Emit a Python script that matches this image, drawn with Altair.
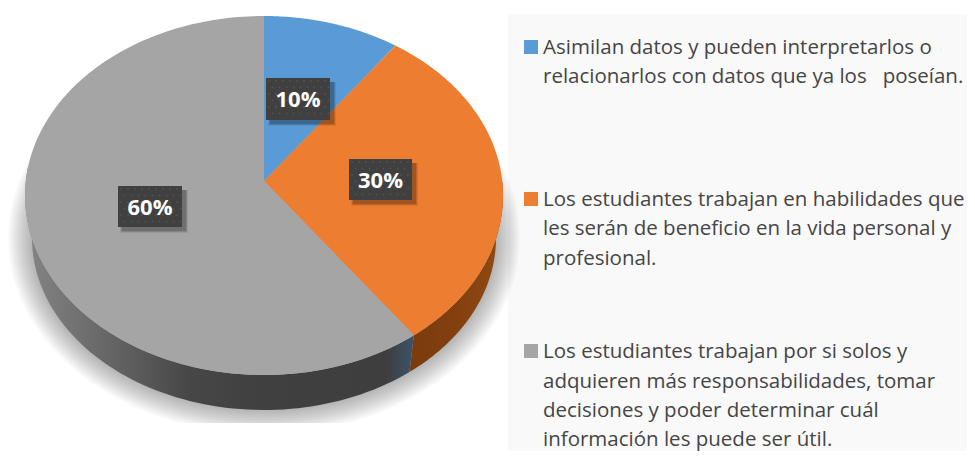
import altair as alt
import numpy as np
import pandas as pd

# ---- data ----
categories = ["Asimilan", "Los estudiantes habilidades", "Los estudiantes solos"]
values = [10, 30, 60]
pct_labels = ["10%", "30%", "60%"]
colors = ["#5b9bd5", "#ed7d31", "#a5a5a5"]
legend_lines = [
    ["Asimilan datos y pueden interpretarlos o",
     "relacionarlos con datos que ya los\u00a0\u00a0\u00a0poseían."],
    ["Los estudiantes trabajan en habilidades que",
     "les serán de beneficio en la vida personal y",
     "profesional."],
    ["Los estudiantes trabajan por si solos y",
     "adquieren más responsabilidades, tomar",
     "decisiones y poder determinar cuál",
     "información les puede ser útil."],
]

# ---- layout (image pixels) ----
CX, CY, RX, RY, K = 264, 195.5, 239, 179.5, 0.081
BCY, BRX, BRY = 238, 232, 172
legend_baselines = [[54, 83], [206, 235, 265], [358, 388, 417, 446]]
swatch_tops = [40, 192, 344]
label_boxes = [(266, 330, 78, 120), (349, 412, 159, 200), (118, 182, 186, 227)]

W, H = 959, 443
xs = alt.Scale(domain=[8, 967], nice=False, zero=False)
ys = alt.Scale(domain=[451, 8], nice=False, zero=False)
X = lambda f="x": alt.X(f"{f}:Q", scale=xs, axis=None)
Y = lambda f="y": alt.Y(f"{f}:Q", scale=ys, axis=None)


def rim(theta_deg, cx=CX, cy=CY, rx=RX, ry=RY):
    """Point on the tilted disc's edge for a data angle (perspective map)."""
    t = np.radians(np.asarray(theta_deg, dtype=float))
    u, v = np.sin(t), np.cos(t)
    d = 1 + K * v
    return cx + rx * u * np.sqrt(1 - K * K) / d, cy - ry * (v + K) / d


def poly(x, y, group=0):
    return pd.DataFrame({"x": x, "y": y, "i": np.arange(len(x)), "g": group})


def filled(df, fill, **kw):
    return alt.Chart(df).mark_line(fill=fill, strokeWidth=0, strokeOpacity=0, **kw).encode(
        x=X(), y=Y(), order="i:Q", detail="g:N")


def rect(x0, x1, y0, y1, color, opacity=1.0):
    d = pd.DataFrame({"x": [x0], "x2": [x1], "y": [y0], "y2": [y1]})
    return alt.Chart(d).mark_rect(color=color, opacity=opacity).encode(
        x=X(), x2="x2:Q", y=Y(), y2="y2:Q")


def hgrad(stops):
    return alt.Gradient(gradient="linear", x1=0, y1=0, x2=1, y2=0,
                        stops=[alt.GradientStop(offset=o, color=c) for o, c in stops])


cum = np.cumsum([0] + values) / sum(values) * 360
layers = [rect(508, 967, 14, 451, "#f9f9f9")]

# soft shadow under the disc
rings = []
tt = np.linspace(0, 2 * np.pi, 240)
for n in range(14):
    g = n * 24 / 13
    xr = CX + (BRX + g) * np.sin(tt)
    yr = np.minimum(BCY + (BRY + g) * np.cos(tt), 423)
    rings.append(poly(xr, yr, n))
layers.append(filled(pd.concat(rings), "#000000", fillOpacity=0.022))


# side wall
def wall(a0, a1):
    th = np.linspace(a0, a1, 80)
    x1, y1 = rim(th)
    x2, y2 = rim(th, cy=BCY, rx=BRX, ry=BRY)
    return poly(np.r_[x1, x2[::-1]], np.r_[y1, y2[::-1]])


layers.append(filled(wall(90, cum[2]), hgrad([(0, "#7a3b0d"), (0.5, "#843f0e"), (1, "#8f4c14")])))
layers.append(filled(wall(cum[2], 275), hgrad([
    (0, "#858585"), (0.2, "#686868"), (0.42, "#474747"), (0.6, "#404040"),
    (0.93, "#3e3e3e"), (0.985, "#3c5062"), (1, "#3c5062")])))

# top face
for i in range(3):
    th = np.linspace(cum[i], cum[i + 1], 160)
    x, y = rim(th)
    ax, ay = CX, CY - RY * K
    layers.append(filled(poly(np.r_[ax, x], np.r_[ay, y]), colors[i]))

# data-label boxes
dots = []
for i, (x0, x1, y0, y1) in enumerate(label_boxes):
    for s, op in [(4, 0.08), (3, 0.12), (2, 0.16)]:
        layers.append(rect(x0 + 6 - s, x1 + 2 + s, y0 + 4, y1 + 2 + s, "#000000", op))
    layers.append(rect(x0, x1, y0, y1, "#404040"))
    for r, yy in enumerate(np.arange(y0 + 3, y1, 6.5)):
        for xx in np.arange(x0 + 3 + (r % 2) * 3.5, x1 - 1, 7):
            dots.append({"x": xx, "y": yy})
layers.append(alt.Chart(pd.DataFrame(dots)).mark_square(size=2.5, color="#555555", opacity=1).encode(x=X(), y=Y()))

label_df = pd.DataFrame({
    "x": [(b[0] + b[1]) / 2 for b in label_boxes],
    "y": [(b[2] + b[3]) / 2 + 1 for b in label_boxes],
    "t": pct_labels,
})
layers.append(alt.Chart(label_df).mark_text(
    color="#ffffff", font="Open Sans", fontWeight="bold", fontSize=22,
    align="center", baseline="middle").encode(x=X(), y=Y(), text="t:N"))

# legend
swatch = pd.DataFrame({"x": [524] * 3, "x2": [538] * 3, "y": swatch_tops,
                       "y2": [t + 14 for t in swatch_tops], "c": categories})
layers.append(alt.Chart(swatch).mark_rect().encode(
    x=X(), x2="x2:Q", y=Y(), y2="y2:Q",
    color=alt.Color("c:N", scale=alt.Scale(domain=categories, range=colors), legend=None)))
rows = [{"x": 543, "y": b, "t": t}
        for lines, bases in zip(legend_lines, legend_baselines)
        for t, b in zip(lines, bases)]
layers.append(alt.Chart(pd.DataFrame(rows)).mark_text(
    color="#454545", font="Open Sans", fontSize=20.5,
    align="left", baseline="alphabetic").encode(x=X(), y=Y(), text="t:N"))

chart = alt.layer(*layers).properties(
    width=W, height=H, padding=0, autosize=alt.AutoSizeParams(type="none"),
    background="#ffffff",
).configure_view(stroke=None)
chart.save("out.html", embed_options={"renderer": "svg", "actions": False})
